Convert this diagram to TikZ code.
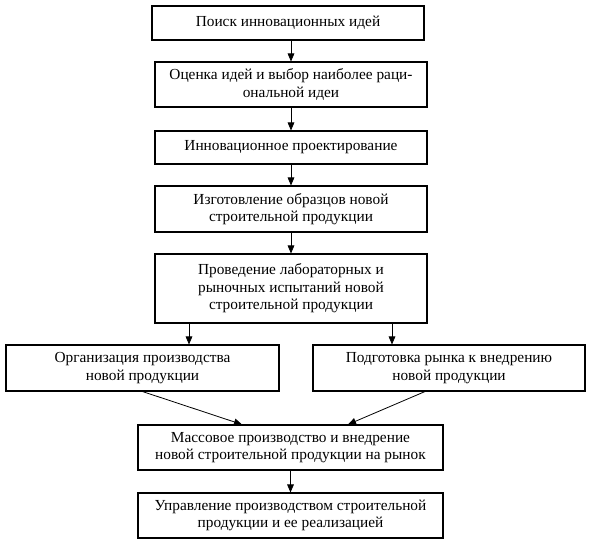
\documentclass[tikz,border=0pt]{standalone}
\usepackage{fontspec}
\setmainfont{Liberation Serif}
\usetikzlibrary{arrows.meta,calc}
\begin{document}
\begin{tikzpicture}[x=0.75pt,y=-0.75pt,
  stepbox/.style={draw,line width=0.8pt,inner sep=0pt,align=center,
    font=\fontsize{11.5pt}{13.2pt}\selectfont},
  arr/.style={line width=0.6pt,-{Triangle[length=6pt,width=5pt]}}]
\fill[white] (0,0) rectangle (593,546);
\useasboundingbox (0,0) rectangle (593,546);
\node[stepbox,minimum width=204pt,minimum height=25.5pt] (b1) at (288,23) {Поиск инновационных идей};
\node[stepbox,minimum width=204pt,minimum height=33.75pt] (b2) at (291,84.5) {Оценка идей и выбор наиболее раци-\\ональной идеи};
\node[stepbox,minimum width=204pt,minimum height=24.75pt] (b3) at (291,147.5) {Инновационное проектирование};
\node[stepbox,minimum width=204pt,minimum height=34.5pt] (b4) at (291,209) {Изготовление образцов новой\\строительной продукции};
\node[stepbox,minimum width=204pt,minimum height=51.75pt] (b5) at (291,288.5) {Проведение лабораторных и\\рыночных испытаний новой\\строительной продукции};
\node[stepbox,minimum width=204.75pt,minimum height=34.5pt] (b6) at (142.5,368) {Организация производства\\новой продукции};
\node[stepbox,minimum width=204pt,minimum height=34.5pt] (b7) at (449,368) {Подготовка рынка к внедрению\\новой продукции};
\node[stepbox,minimum width=228.75pt,minimum height=33.75pt] (b8) at (290.5,447.5) {Массовое производство и внедрение\\новой строительной продукции на рынок};
\node[stepbox,minimum width=228.75pt,minimum height=33.75pt] (b9) at (290.5,515.5) {Управление производством строительной\\продукции и ее реализацией};
\coordinate (s56) at (189,0);
\coordinate (s57) at (392,0);
\coordinate (e68) at (242,0);
\coordinate (s78) at (425,0);
\coordinate (e78) at (348,0);
\draw[arr] (b1.south -| b2.north) -- (b2.north);
\draw[arr] (b2) -- (b3);
\draw[arr] (b3) -- (b4);
\draw[arr] (b4) -- (b5);
\draw[arr] (b5.south -| s56) -- (b6.north -| s56);
\draw[arr] (b5.south -| s57) -- (b7.north -| s57);
\draw[arr] (b6.south) -- (b8.north -| e68);
\draw[arr] (b7.south -| s78) -- (b8.north -| e78);
\draw[arr] (b8) -- (b9);
\end{tikzpicture}
\end{document}
